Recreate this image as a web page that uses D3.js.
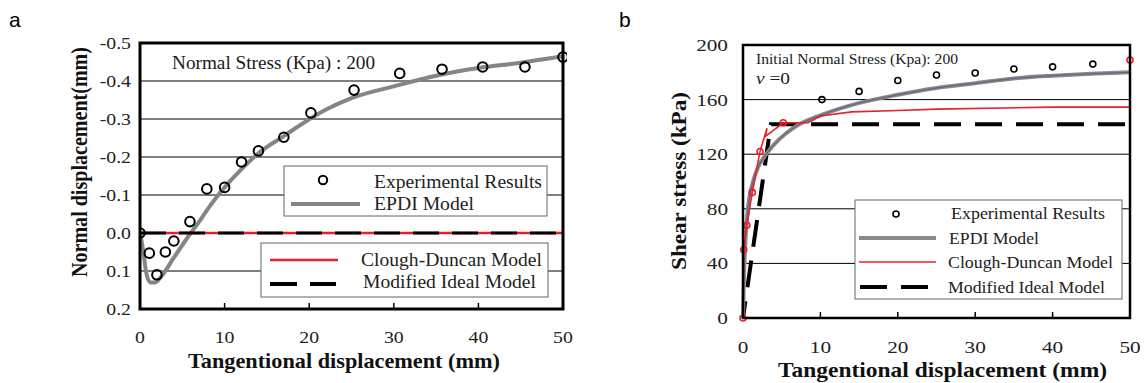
<!DOCTYPE html>
<html><head><meta charset="utf-8">
<script src="https://cdn.jsdelivr.net/npm/d3@7"></script>
<style>body{margin:0;background:#fff}svg{display:block}</style>
</head><body>
<svg id="c" width="1144" height="383"></svg>
<script>
// ---------- Panel a data ----------
const aExpX = [0, 1.1, 2.0, 3.0, 4.0, 5.9, 7.9, 10.0, 12.0, 14.0, 17.0, 20.2, 25.3, 30.7, 35.7, 40.5, 45.5, 50.0];
const aExpY = [0, 0.053, 0.11, 0.05, 0.021, -0.03, -0.116, -0.12, -0.187, -0.216, -0.252, -0.316, -0.376, -0.42, -0.431, -0.437, -0.437, -0.463];
const aEpdiX = [0, 0.4, 0.7, 1.2, 1.8, 2.5, 4, 6, 7, 8, 9, 10, 12, 14, 17, 19, 22, 25, 30, 35, 40, 45, 50];
const aEpdiY = [0, 0.05, 0.1, 0.13, 0.13, 0.115, 0.065, 0.0, -0.03, -0.063, -0.093, -0.12, -0.168, -0.21, -0.255, -0.285, -0.325, -0.355, -0.386, -0.414, -0.434, -0.448, -0.465];
const aCloughX = [0, 50];
const aCloughY = [0, 0];
const aIdealX = [0, 50];
const aIdealY = [0, 0];
const aXTicks = [0, 10, 20, 30, 40, 50];
const aYTicks = [-0.5, -0.4, -0.3, -0.2, -0.1, 0.0, 0.1, 0.2];
const aYGrid = [-0.4, -0.3, -0.2, -0.1, 0.1];

// ---------- Panel b data ----------
const bExpX = [0, 0.1, 0.5, 1.2, 2.2, 5.2, 10.2, 15.0, 20.0, 25.0, 30.0, 35.0, 40.0, 45.2, 50.0];
const bExpY = [0, 50, 68, 92, 122, 143, 160, 166, 174, 178, 179.5, 182.4, 184, 186, 189];
const bEpdiX = [0, 0.1, 0.25, 0.6, 1.3, 2, 3, 4, 5.5, 7, 10, 14, 20, 25, 30, 35, 40, 45, 50];
const bEpdiY = [0, 25, 50, 78, 100, 111, 120, 127, 135, 141, 148.5, 156, 163.5, 168.5, 172, 175.5, 177.5, 179, 180];
const bCloughX = [0, 0.1, 0.5, 1.2, 2.2, 3.1, 2.9, 5.2, 8.4, 10, 14, 20, 25, 40, 50];
const bCloughY = [0, 50, 68, 92, 122, 139, 133, 143, 143, 148, 151, 152, 153, 154.5, 154.5];
const bIdealX = [0, 3.6, 50];
const bIdealY = [0, 142, 142];
const bXTicks = [0, 10, 20, 30, 40, 50];
const bYTicks = [0, 40, 80, 120, 160, 200];
const bYGrid = [40, 80, 120, 160];

const serif = "'Liberation Serif','Times New Roman',serif";
const svg = d3.select("#c");
const zip = (xs, ys) => xs.map((x, i) => [x, ys[i]]);

// text helper: fixed width via textLength
function txt(g, s, x, y, size, len, opts = {}) {
  const t = g.append("text").attr("x", x).attr("y", y).attr("font-family", serif)
    .attr("font-size", size).attr("fill", opts.fill || "#222").text(s);
  if (len) t.attr("textLength", len).attr("lengthAdjust", "spacingAndGlyphs");
  if (opts.bold) t.attr("font-weight", "bold");
  return t;
}

// ================= Panel a =================
{
  const L = 140, R = 563, T = 43, B = 309;
  const x = d3.scaleLinear().domain([0, 50]).range([L, R]);
  const y = d3.scaleLinear().domain([-0.5, 0.2]).range([T, B]);
  const g = svg.append("g");
  const line = d3.line().x(d => x(d[0])).y(d => y(d[1]));

  g.append("text").attr("x", 9).attr("y", 27).attr("font-family", "Arial, 'Liberation Sans', sans-serif")
    .attr("font-size", 21).text("a");

  g.selectAll(".gr").data(aYGrid).enter().append("line")
    .attr("x1", L).attr("x2", R).attr("y1", d => y(d)).attr("y2", d => y(d))
    .attr("stroke", "#000").attr("stroke-width", 1);

  g.selectAll(".xt").data(aXTicks.slice(1, -1)).enter().append("line")
    .attr("x1", d => x(d)).attr("x2", d => x(d)).attr("y1", B).attr("y2", B - 6)
    .attr("stroke", "#000").attr("stroke-width", 1.5);

  g.selectAll(".xl").data(aXTicks).enter().append("text")
    .attr("transform", d => `translate(${x(d)},343) scale(1.2,1)`).attr("text-anchor", "middle")
    .attr("font-family", serif).attr("font-size", 16.5).attr("fill", "#222").text(d => d);
  g.selectAll(".yl").data(aYTicks).enter().append("text")
    .attr("transform", d => `translate(131,${y(d) + 6}) scale(1.2,1)`).attr("text-anchor", "end")
    .attr("font-family", serif).attr("font-size", 16.5).attr("fill", "#222").text(d => d3.format(".1f")(d).replace("−", "-"));

  svg.append("clipPath").attr("id", "clipA").append("rect").attr("x", L).attr("y", T - 4).attr("width", R - L + 4).attr("height", B - T + 4);
  const pg = g.append("g").attr("clip-path", "url(#clipA)");

  pg.append("path").datum(zip(aEpdiX, aEpdiY)).attr("d", line.curve(d3.curveMonotoneX))
    .attr("fill", "none").attr("stroke", "#858585").attr("stroke-width", 4);
  pg.append("path").datum(zip(aCloughX, aCloughY)).attr("d", d3.line().x(d => x(d[0])).y(d => y(d[1])))
    .attr("fill", "none").attr("stroke", "#e8202a").attr("stroke-width", 2.5);
  pg.append("path").datum(zip(aIdealX, aIdealY)).attr("d", d3.line().x(d => x(d[0])).y(d => y(d[1])))
    .attr("fill", "none").attr("stroke", "#000").attr("stroke-width", 3).attr("stroke-dasharray", "26,13");

  pg.selectAll(".ep").data(zip(aExpX, aExpY)).enter().append("circle")
    .attr("cx", d => x(d[0])).attr("cy", d => y(d[1])).attr("r", 4.8)
    .attr("fill", "none").attr("stroke", "#000").attr("stroke-width", 2);

  g.append("rect").attr("x", L).attr("y", T).attr("width", R - L).attr("height", B - T)
    .attr("fill", "none").attr("stroke", "#000").attr("stroke-width", 3);

  txt(g, "Normal Stress (Kpa) : 200", 172, 69, 18, 203, { fill: "#1a1a1a" });

  // legend 1
  g.append("rect").attr("x", 284).attr("y", 166).attr("width", 263).attr("height", 50)
    .attr("fill", "#fff").attr("stroke", "#666").attr("stroke-width", 1);
  g.append("circle").attr("cx", 323).attr("cy", 180).attr("r", 4.2).attr("fill", "none").attr("stroke", "#000").attr("stroke-width", 2);
  g.append("line").attr("x1", 291).attr("x2", 360).attr("y1", 204).attr("y2", 204).attr("stroke", "#858585").attr("stroke-width", 4);
  txt(g, "Experimental Results", 374, 188, 18.5, 168);
  txt(g, "EPDI Model", 374, 210, 18.5, 100);

  // legend 2
  g.append("rect").attr("x", 261).attr("y", 243).attr("width", 287).attr("height", 54)
    .attr("fill", "#fff").attr("stroke", "#666").attr("stroke-width", 1);
  g.append("line").attr("x1", 270).attr("x2", 338).attr("y1", 260).attr("y2", 260).attr("stroke", "#e8202a").attr("stroke-width", 2.5);
  g.append("line").attr("x1", 270).attr("x2", 336).attr("y1", 284).attr("y2", 284).attr("stroke", "#000").attr("stroke-width", 4).attr("stroke-dasharray", "27,13");
  txt(g, "Clough-Duncan Model", 361, 266, 18.5, 181);
  txt(g, "Modified Ideal Model", 363, 288, 18.5, 173);

  txt(g, "Tangentional displacement (mm)", 188, 368, 21, 312, { bold: true, fill: "#111" });
  g.append("text").attr("transform", "translate(87,162) rotate(-90)").attr("text-anchor", "middle").attr("font-family", serif)
    .attr("font-weight", "bold").attr("font-size", 22.5).attr("fill", "#111")
    .attr("textLength", 230).attr("lengthAdjust", "spacingAndGlyphs").text("Normal displacement(mm)");
}

// ================= Panel b =================
{
  const L = 743, R = 1130, T = 45, B = 318;
  const x = d3.scaleLinear().domain([0, 50]).range([L, R]);
  const y = d3.scaleLinear().domain([0, 200]).range([B, T]);
  const g = svg.append("g");
  const line = d3.line().x(d => x(d[0])).y(d => y(d[1]));

  g.append("text").attr("x", 619).attr("y", 27).attr("font-family", "Arial, 'Liberation Sans', sans-serif")
    .attr("font-size", 21).text("b");

  g.selectAll(".gr").data(bYGrid).enter().append("line")
    .attr("x1", L).attr("x2", R).attr("y1", d => y(d)).attr("y2", d => y(d))
    .attr("stroke", "#000").attr("stroke-width", 1);
  g.selectAll(".xt").data(bXTicks.slice(1, -1)).enter().append("line")
    .attr("x1", d => x(d)).attr("x2", d => x(d)).attr("y1", B).attr("y2", B - 6)
    .attr("stroke", "#000").attr("stroke-width", 1.5);

  g.selectAll(".xl").data(bXTicks).enter().append("text")
    .attr("transform", d => `translate(${x(d)},353) scale(1.25,1)`).attr("text-anchor", "middle")
    .attr("font-family", serif).attr("font-size", 17).attr("fill", "#222").text(d => d);
  g.selectAll(".yl").data(bYTicks).enter().append("text")
    .attr("transform", d => `translate(728,${y(d) + 6}) scale(1.25,1)`).attr("text-anchor", "end")
    .attr("font-family", serif).attr("font-size", 17).attr("fill", "#222").text(d => d);

  svg.append("clipPath").attr("id", "clipB").append("rect").attr("x", L - 4).attr("y", T).attr("width", R - L + 8).attr("height", B - T + 4);
  const pg = g.append("g").attr("clip-path", "url(#clipB)");

  pg.append("path").datum(zip(bIdealX, bIdealY)).attr("d", line)
    .attr("fill", "none").attr("stroke", "#000").attr("stroke-width", 4).attr("stroke-dasharray", "27,14").attr("stroke-dashoffset", 10);
  const epdiLine = d3.line().x(d => x(d[0])).y(d => y(d[1])).curve(d3.curveMonotoneX);
  pg.append("path").datum(zip(bEpdiX, bEpdiY)).attr("d", epdiLine)
    .attr("fill", "none").attr("stroke", "#8a8a8a").attr("stroke-width", 4);
  pg.append("path").datum(zip(bEpdiX, bEpdiY)).attr("d", epdiLine)
    .attr("fill", "none").attr("stroke", "#2a2a8a").attr("stroke-width", 0.8).attr("opacity", 0.6);
  pg.append("path").datum(zip(bCloughX, bCloughY)).attr("d", line)
    .attr("fill", "none").attr("stroke", "#e8202a").attr("stroke-width", 1.6);

  pg.selectAll(".ep").data(zip(bExpX, bExpY)).enter().append("circle")
    .attr("cx", d => x(d[0])).attr("cy", d => y(d[1])).attr("r", 3)
    .attr("fill", "none").attr("stroke", d => (d[0] < 6 || d[0] >= 50) ? "#e8202a" : "#000").attr("stroke-width", 1.6);

  g.append("rect").attr("x", L).attr("y", T).attr("width", R - L).attr("height", B - T)
    .attr("fill", "none").attr("stroke", "#000").attr("stroke-width", 2.5);

  txt(g, "Initial Normal Stress (Kpa): 200", 756, 64, 15, 202, { fill: "#1a1a1a" });
  g.append("text").attr("x", 756).attr("y", 84).attr("font-family", serif).attr("font-size", 16.5)
    .attr("fill", "#1a1a1a").attr("textLength", 34).attr("lengthAdjust", "spacingAndGlyphs")
    .html("<tspan font-style='italic'>ν</tspan> =0");

  g.append("rect").attr("x", 855).attr("y", 200).attr("width", 267).attr("height", 99)
    .attr("fill", "#fff").attr("stroke", "#666").attr("stroke-width", 1);
  g.append("circle").attr("cx", 896).attr("cy", 214).attr("r", 3).attr("fill", "none").attr("stroke", "#000").attr("stroke-width", 1.6);
  g.append("line").attr("x1", 859).attr("x2", 936).attr("y1", 238).attr("y2", 238).attr("stroke", "#8a8a8a").attr("stroke-width", 4);
  g.append("line").attr("x1", 859).attr("x2", 936).attr("y1", 262).attr("y2", 262).attr("stroke", "#e8202a").attr("stroke-width", 1.6);
  g.append("line").attr("x1", 860).attr("x2", 928).attr("y1", 287).attr("y2", 287).attr("stroke", "#000").attr("stroke-width", 4).attr("stroke-dasharray", "27,14");
  txt(g, "Experimental Results", 951, 219, 17.5, 154);
  txt(g, "EPDI Model", 949, 244, 17.5, 90);
  txt(g, "Clough-Duncan Model", 948, 268, 17.5, 165);
  txt(g, "Modified Ideal Model", 948, 293, 17.5, 157);

  txt(g, "Tangentional displacement (mm)", 778, 377, 21, 329, { bold: true, fill: "#111" });
  g.append("text").attr("transform", "translate(686,181) rotate(-90)").attr("text-anchor", "middle").attr("font-family", serif)
    .attr("font-weight", "bold").attr("font-size", 22).attr("fill", "#111")
    .attr("textLength", 178).attr("lengthAdjust", "spacingAndGlyphs").text("Shear stress (kPa)");
}
</script>
</body></html>
